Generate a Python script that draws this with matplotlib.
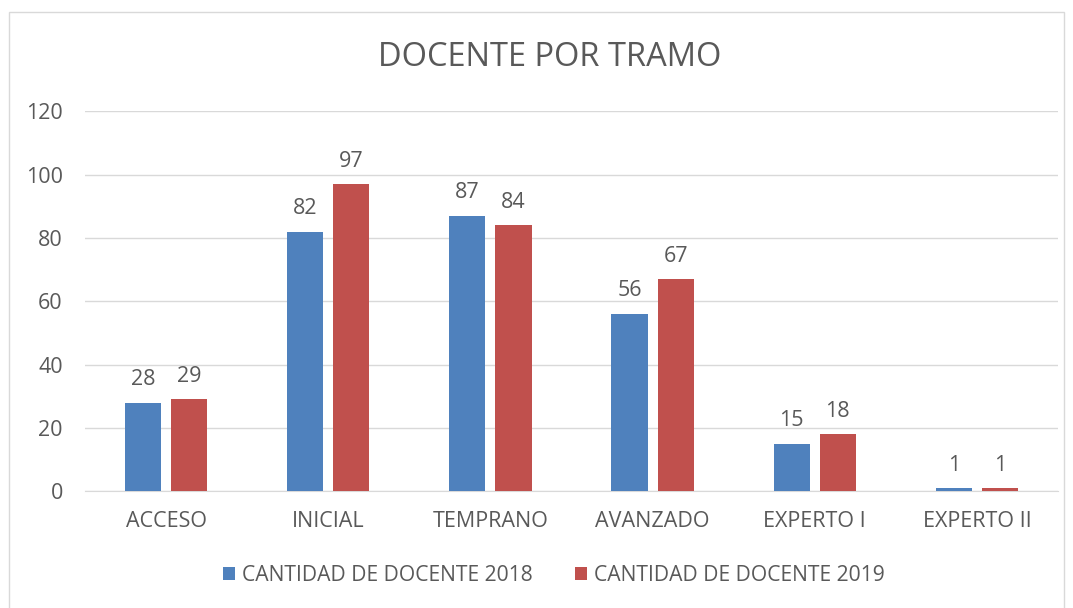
import matplotlib.pyplot as plt
import numpy as np
from matplotlib.patches import Rectangle

categorias = ['ACCESO', 'INICIAL', 'TEMPRANO', 'AVANZADO', 'EXPERTO I', 'EXPERTO II']
docentes_2018 = [28, 82, 87, 56, 15, 1]
docentes_2019 = [29, 97, 84, 67, 18, 1]
etiquetas = ['CANTIDAD DE DOCENTE 2018', 'CANTIDAD DE DOCENTE 2019']

azul = '#4F81BD'
rojo = '#C0504D'
gris = '#595959'

plt.rcParams['font.family'] = ['Open Sans', 'DejaVu Sans']

fig = plt.figure(figsize=(10.73, 6.08), dpi=100)
ax = fig.add_axes([0.0792, 0.192, 0.9068, 0.625])

# marco del grafico
fig.patches.append(Rectangle((0.008, -0.02), 0.984, 1.0, transform=fig.transFigure,
                             fill=False, edgecolor='#D9D9D9', linewidth=1))

x = np.arange(len(categorias))
ancho = 0.223
b1 = ax.bar(x - 0.142, docentes_2018, ancho, color=azul, label=etiquetas[0], zorder=3)
b2 = ax.bar(x + 0.142, docentes_2019, ancho, color=rojo, label=etiquetas[1], zorder=3)

for barras in (b1, b2):
    for b in barras:
        ax.annotate(f'{int(b.get_height())}', (b.get_x() + b.get_width() / 2, b.get_height()),
                    xytext=(0, 9), textcoords='offset points', ha='center', va='bottom',
                    fontsize=15.5, color=gris)

ax.set_xlim(-0.5, len(categorias) - 0.5)
ax.set_ylim(0, 120)
ax.set_yticks(range(0, 121, 20))
ax.set_xticks(x)
ax.set_xticklabels(categorias)
ax.grid(axis='y', color='#D9D9D9', linewidth=1, zorder=0)
for s in ['top', 'right', 'left']:
    ax.spines[s].set_visible(False)
ax.spines['bottom'].set_color('#D9D9D9')
ax.tick_params(length=0, labelsize=15.5, colors=gris)
ax.tick_params(axis='x', pad=14)
ax.tick_params(axis='y', pad=16)

fig.text(0.512, 0.906, 'DOCENTE POR TRAMO', ha='center', va='center', fontsize=23.5, color=gris)

fig.legend(loc='center', bbox_to_anchor=(0.516, 0.054), ncol=2, frameon=False,
           fontsize=15.2, labelcolor=gris, handlelength=0.6, handleheight=0.6,
           columnspacing=2.0, handletextpad=0.3)

fig.savefig('out.png', dpi=100)
